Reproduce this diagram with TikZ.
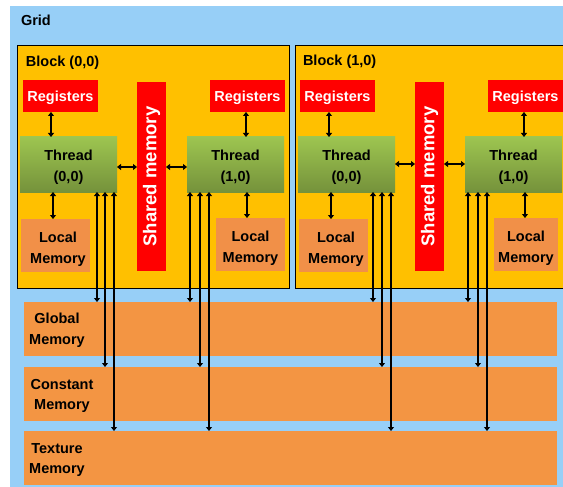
\documentclass[tikz,border=0pt]{standalone}
\usepackage{fontspec}
\setmainfont{Liberation Sans}
\usetikzlibrary{arrows.meta}
\definecolor{gridblue}{RGB}{151,207,247}
\definecolor{blockyel}{RGB}{255,192,0}
\definecolor{regred}{RGB}{255,0,0}
\definecolor{memorange}{RGB}{243,149,67}
\definecolor{locorange}{RGB}{241,144,72}
\definecolor{thrtop}{RGB}{157,197,80}
\definecolor{thrbot}{RGB}{117,146,59}
\newcommand{\dnstrut}[1][14.5pt]{\rule{0pt}{#1}}
\tikzset{
  every node/.style={font=\bfseries\fontsize{14.5}{20.5}\selectfont, inner sep=0pt, outer sep=0pt},
  gridbox/.style={fill=gridblue, anchor=north west},
  blockbox/.style={fill=blockyel, draw=black, line width=1pt, anchor=north west},
  regbox/.style={fill=regred, text=white, minimum width=75pt, minimum height=32pt},
  shbox/.style={fill=regred, text=white, minimum width=29pt, minimum height=189pt},
  thrbox/.style={top color=thrtop, bottom color=thrbot, minimum width=97pt, minimum height=55pt, align=center},
  locbox/.style={fill=locorange, minimum height=53pt, align=center},
  membox/.style={fill=memorange, minimum width=533pt, minimum height=54pt, anchor=north west},
  memtext/.style={align=center},
  dbl/.style={line width=1.1pt, {Triangle[width=6pt,length=4pt]}-{Triangle[width=6pt,length=4pt]}},
}
\begin{document}
\begin{tikzpicture}[x=1pt,y=-1pt]
\useasboundingbox (0,0) rectangle (563,487);
\clip (0,0) rectangle (563,487);
% grid
\node[gridbox, minimum width=553pt, minimum height=481pt] (grid) at (10,6) {};
\node[anchor=west] (gridlabel) at (21,20.5) {Grid};
% blocks
\node[blockbox, minimum width=272pt, minimum height=242pt] (B0) at (17,46) {};
\node[blockbox, minimum width=280pt, minimum height=242pt] (B1) at (295,46) {};
\node[anchor=west] (B0l) at (26,62.5) {Block (0,0)};
\node[anchor=west] (B1l) at (303,61.5) {Block (1,0)};
% registers
\node[regbox] (R00) at (60.5,96) {\dnstrut Registers};
\node[regbox] (R01) at (247.5,96) {\dnstrut Registers};
\node[regbox] (R10) at (337.5,96) {\dnstrut Registers};
\node[regbox] (R11) at (525.5,96) {\dnstrut Registers};
% shared
\node[shbox] (S0) at (151.5,176.5) {\rotatebox{90}{\fontsize{18.5}{22}\selectfont Shared memory}};
\node[shbox] (S1) at (429.5,176.5) {\rotatebox{90}{\fontsize{18.5}{22}\selectfont Shared memory}};
% threads
\node[thrbox] (T00) at (68.5,164.5) {\dnstrut[16.5pt]Thread\\(0,0)};
\node[thrbox] (T01) at (235.5,164.5) {\dnstrut[16.5pt]Thread\\(1,0)};
\node[thrbox] (T10) at (346.5,164.5) {\dnstrut[16.5pt]Thread\\(0,0)};
\node[thrbox] (T11) at (513.5,164.5) {\dnstrut[16.5pt]Thread\\(1,0)};
% local
\node[locbox, minimum width=69pt] (L00) at (55.5,245.5) {\dnstrut[18.5pt]\hspace*{5pt}Local\\\hspace*{5pt}Memory};
\node[locbox, minimum width=69pt] (L01) at (250.5,244.5) {\dnstrut[18.5pt]Local\\Memory};
\node[locbox, minimum width=69pt] (L10) at (333.5,245.5) {\dnstrut[18.5pt]\hspace*{5pt}Local\\\hspace*{5pt}Memory};
\node[locbox, minimum width=64pt] (L11) at (526,244.5) {\dnstrut[18.5pt]Local\\Memory};
% memories
\node[membox] (G) at (24,302) {};
\node[membox] (C) at (24,367) {};
\node[membox] (X) at (24,431) {};
\node[memtext] (Gt) at (57,330) {Global\\Memory};
\node[memtext] (Ct) at (62,396) {Constant\\Memory};
\node[memtext] (Xt) at (57,460) {Texture\\Memory};
% registers <-> threads
\draw[dbl] ([xshift=-9.5pt]R00.south) coordinate (r1) -- (r1 |- T00.north);
\draw[dbl] ([xshift=-1.5pt]R01.south) coordinate (r2) -- (r2 |- T01.north);
\draw[dbl] ([xshift=-8.5pt]R10.south) coordinate (r3) -- (r3 |- T10.north);
\draw[dbl] ([xshift=-1.5pt]R11.south) coordinate (r4) -- (r4 |- T11.north);
% threads <-> local
\draw[dbl] ([xshift=-15.5pt]T00.south) coordinate (l1) -- (l1 |- L00.north);
\draw[dbl] ([xshift=11.5pt]T01.south) coordinate (l2) -- (l2 |- L01.north);
\draw[dbl] ([xshift=-15.5pt]T10.south) coordinate (l3) -- (l3 |- L10.north);
\draw[dbl] ([xshift=11.5pt]T11.south) coordinate (l4) -- (l4 |- L11.north);
% threads <-> shared
\draw[dbl] ([yshift=-2.5pt]T00.east) coordinate (s1) -- (s1 -| S0.west);
\draw[dbl] ([yshift=-2.5pt]T01.west) coordinate (s2) -- (s2 -| S0.east);
\draw[dbl] ([yshift=0.5pt]T10.east) coordinate (s3) -- (s3 -| S1.west);
\draw[dbl] ([yshift=0.5pt]T11.west) coordinate (s4) -- (s4 -| S1.east);
% threads <-> global / constant / texture
\draw[dbl] ([xshift=28.5pt]T00.south) coordinate (a1) -- (a1 |- G.north);
\draw[dbl] ([xshift=36.5pt]T00.south) coordinate (a2) -- (a2 |- C.north);
\draw[dbl] ([xshift=45.5pt]T00.south) coordinate (a3) -- (a3 |- X.north);
\draw[dbl] ([xshift=-45.5pt]T01.south) coordinate (b1) -- (b1 |- G.north);
\draw[dbl] ([xshift=-35.5pt]T01.south) coordinate (b2) -- (b2 |- C.north);
\draw[dbl] ([xshift=-26.5pt]T01.south) coordinate (b3) -- (b3 |- X.north);
\draw[dbl] ([xshift=26.5pt]T10.south) coordinate (c1) -- (c1 |- G.north);
\draw[dbl] ([xshift=35.5pt]T10.south) coordinate (c2) -- (c2 |- C.north);
\draw[dbl] ([xshift=44.5pt]T10.south) coordinate (c3) -- (c3 |- X.north);
\draw[dbl] ([xshift=-45.5pt]T11.south) coordinate (d1) -- (d1 |- G.north);
\draw[dbl] ([xshift=-35.5pt]T11.south) coordinate (d2) -- (d2 |- C.north);
\draw[dbl] ([xshift=-26.5pt]T11.south) coordinate (d3) -- (d3 |- X.north);
\end{tikzpicture}
\end{document}
